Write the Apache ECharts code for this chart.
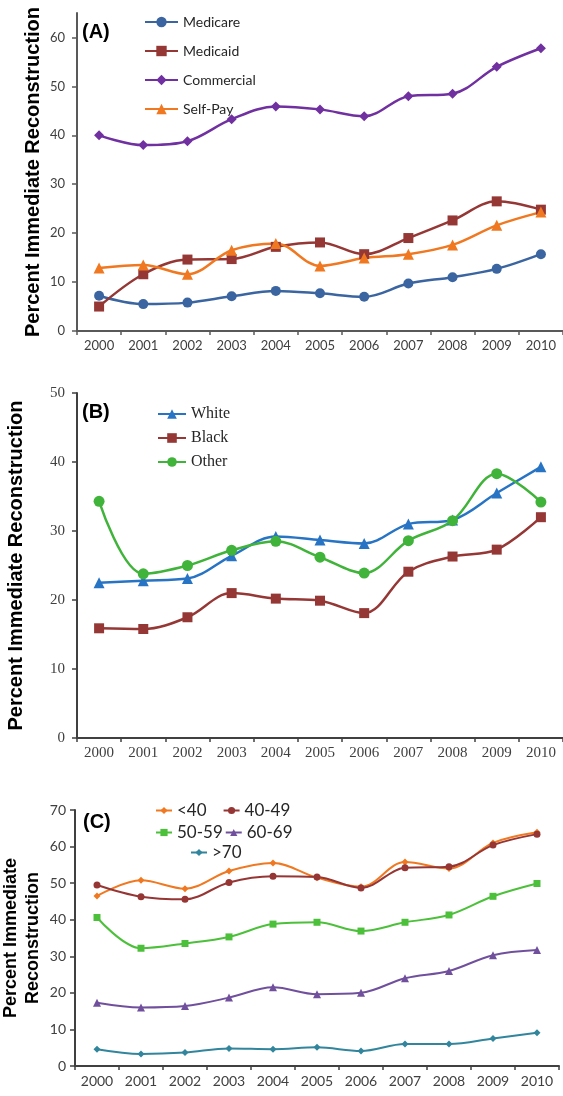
<!DOCTYPE html>
<html>
<head>
<meta charset="utf-8">
<script src="https://cdn.jsdelivr.net/npm/echarts@6/dist/echarts.min.js"></script>
<style>
  html, body { margin: 0; padding: 0; background: #fff; }
  #chart { width: 563px; height: 1096px; }
</style>
</head>
<body>
<div id="chart"></div>
<script>
// data
const years = ['2000','2001','2002','2003','2004','2005','2006','2007','2008','2009','2010'];

// (A) payer
const medicare   = [7.2, 5.5, 5.8, 7.1, 8.2, 7.7, 7.0, 9.7, 11.0, 12.7, 15.7];
const medicaid   = [5.0, 11.6, 14.6, 14.7, 17.2, 18.1, 15.7, 19.0, 22.6, 26.5, 24.8];
const commercial = [40.0, 38.0, 38.8, 43.3, 45.9, 45.3, 43.9, 48.0, 48.5, 54.0, 57.8];
const selfPay    = [12.9, 13.5, 11.6, 16.5, 17.9, 13.3, 14.9, 15.7, 17.6, 21.6, 24.3];

// (B) race
const white = [22.5, 22.8, 23.1, 26.4, 29.2, 28.7, 28.2, 31.0, 31.6, 35.5, 39.3];
const black = [15.9, 15.8, 17.5, 21.0, 20.2, 19.9, 18.1, 24.1, 26.3, 27.3, 32.0];
const other = [34.3, 23.8, 25.0, 27.2, 28.5, 26.2, 23.9, 28.6, 31.5, 38.3, 34.2];

// (C) age
const ageLt40  = [46.5, 50.8, 48.5, 53.3, 55.5, 51.5, 49.0, 55.8, 54.0, 61.0, 63.9];
const age4049  = [49.5, 46.3, 45.6, 50.2, 51.9, 51.7, 48.7, 54.2, 54.5, 60.4, 63.4];
const age5059  = [40.6, 32.2, 33.5, 35.3, 38.8, 39.3, 36.9, 39.3, 41.3, 46.4, 49.9];
const age6069  = [17.3, 16.0, 16.4, 18.7, 21.5, 19.6, 20.0, 24.0, 26.0, 30.3, 31.7];
const ageGt70  = [4.6, 3.3, 3.7, 4.8, 4.6, 5.1, 4.1, 6.0, 6.0, 7.5, 9.1];

const yTitle = 'Percent Immediate Reconstruction';

const chart = echarts.init(document.getElementById('chart'));

function xAxis(grid, font, size, color) {
  return {
    type: 'category', gridIndex: grid, data: years, boundaryGap: true,
    axisLine: { lineStyle: { color: color, width: 2 } },
    axisTick: { show: true, alignWithLabel: false, length: 4, lineStyle: { color: color, width: 1.5 } },
    axisLabel: { fontFamily: font, fontSize: size, color: '#404040', margin: 8 }
  };
}
function yAxis(grid, max, font, size, color, name, nameSize, nameGap, margin) {
  return {
    type: 'value', gridIndex: grid, min: 0, max: max, interval: 10,
    splitLine: { show: false },
    axisLine: { show: true, lineStyle: { color: color, width: 2 } },
    axisTick: { show: true, length: 5, lineStyle: { color: color, width: 1.5 } },
    axisLabel: { fontFamily: font, fontSize: size, color: '#404040', margin: margin, showMaxLabel: max % 10 === 0 },
    name: name, nameLocation: 'middle', nameRotate: 90, nameGap: nameGap, nameMoveOverlap: false,
    nameTextStyle: { fontFamily: 'Liberation Sans', fontWeight: 'bold', fontSize: nameSize, color: '#000', lineHeight: nameSize + 4 }
  };
}
function line(name, data, idx, color, symbol, size, width) {
  return {
    name: name, type: 'line', data: data, xAxisIndex: idx, yAxisIndex: idx,
    smooth: 0.35, symbol: symbol, symbolSize: size,
    lineStyle: { color: color, width: width },
    itemStyle: { color: color },
    emphasis: { disabled: true }
  };
}

const option = {
  animation: false,
  backgroundColor: '#fff',
  grid: [
    { left: 77, top: 13, width: 486, height: 318, outerBoundsMode: 'none' },
    { left: 77, top: 393, width: 486, height: 345, outerBoundsMode: 'none' },
    { left: 75, top: 810, width: 484, height: 256, outerBoundsMode: 'none' }
  ],
  xAxis: [
    xAxis(0, 'Lato', 13, '#595959'),
    xAxis(1, 'Liberation Serif', 15, '#404040'),
    xAxis(2, 'Lato', 14, '#404040')
  ],
  yAxis: [
    yAxis(0, 65, 'Lato', 13, '#595959', yTitle, 20, 32, 12),
    yAxis(1, 50, 'Liberation Serif', 15, '#404040', yTitle, 20, 49, 12),
    yAxis(2, 70, 'Lato', 14, '#404040', 'Percent Immediate\nReconstruction', 18, 31, 9)
  ],
  legend: [
    {
      orient: 'vertical', left: 139, top: 10, itemGap: 15, itemWidth: 33, itemHeight: 13,
      textStyle: { fontFamily: 'Lato', fontSize: 14, color: '#262626' },
      data: ['Medicare', 'Medicaid', 'Commercial', 'Self-Pay'], selectedMode: false
    },
    {
      orient: 'vertical', left: 152, top: 401, itemGap: 8, itemWidth: 28, itemHeight: 12,
      textStyle: { fontFamily: 'Liberation Serif', fontSize: 16, color: '#262626' },
      data: ['White', 'Black', 'Other'], selectedMode: false
    },
    {
      orient: 'horizontal', left: 150, top: 797, itemGap: 16, itemWidth: 16, itemHeight: 9,
      textStyle: { fontFamily: 'Lato', fontSize: 17, color: '#262626' },
      data: ['<40', '40-49'], selectedMode: false
    },
    {
      orient: 'horizontal', left: 150, top: 819, itemGap: 2, itemWidth: 16, itemHeight: 9,
      textStyle: { fontFamily: 'Lato', fontSize: 17, color: '#262626' },
      data: ['50-59', '60-69'], selectedMode: false
    },
    {
      orient: 'horizontal', left: 185, top: 839, itemWidth: 16, itemHeight: 9,
      textStyle: { fontFamily: 'Lato', fontSize: 17, color: '#262626' },
      data: ['>70'], selectedMode: false
    }
  ],
  graphic: [
    { type: 'text', left: 82, top: 22, style: { text: '(A)', fontFamily: 'Liberation Sans', fontWeight: 'bold', fontSize: 20, fill: '#000' } },
    { type: 'text', left: 82, top: 402, style: { text: '(B)', fontFamily: 'Liberation Sans', fontWeight: 'bold', fontSize: 20, fill: '#000' } },
    { type: 'text', left: 83, top: 812, style: { text: '(C)', fontFamily: 'Liberation Sans', fontWeight: 'bold', fontSize: 20, fill: '#000' } }
  ],
  series: [
    line('Medicare', medicare, 0, '#3A65A0', 'circle', 10, 2.5),
    line('Medicaid', medicaid, 0, '#953735', 'rect', 10, 2.5),
    line('Commercial', commercial, 0, '#7030A0', 'diamond', 10, 2.5),
    line('Self-Pay', selfPay, 0, '#F07820', 'triangle', 11, 2.5),

    line('White', white, 1, '#2874C4', 'triangle', 11, 2.5),
    line('Black', black, 1, '#953735', 'rect', 10, 2.5),
    line('Other', other, 1, '#40B33A', 'circle', 11, 2.5),

    line('<40', ageLt40, 2, '#F07820', 'diamond', 7, 2),
    line('40-49', age4049, 2, '#963634', 'circle', 7, 2),
    line('50-59', age5059, 2, '#4CC03A', 'rect', 7, 2),
    line('60-69', age6069, 2, '#70509C', 'triangle', 8, 2),
    line('>70', ageGt70, 2, '#31859C', 'diamond', 7, 2)
  ]
};

chart.setOption(option);
</script>
</body>
</html>
